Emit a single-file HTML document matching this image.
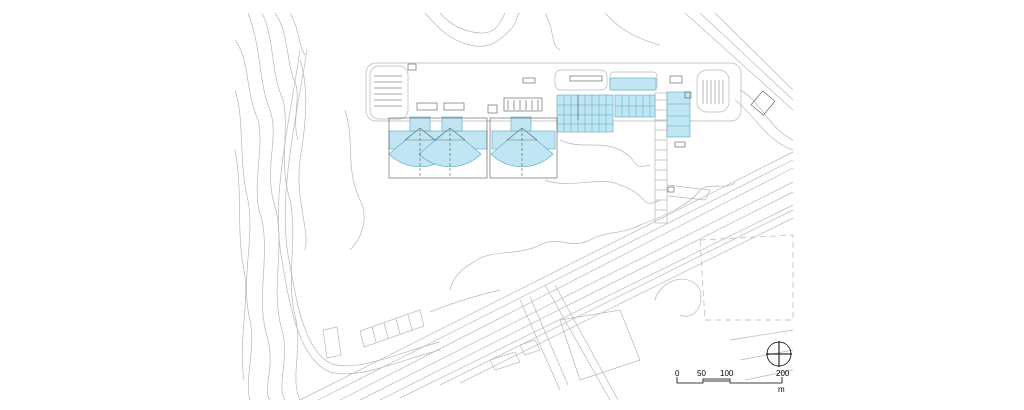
<!DOCTYPE html>
<html><head><meta charset="utf-8"><style>
html,body{margin:0;padding:0;background:#fff;width:1024px;height:410px;overflow:hidden}
svg{display:block}
text{font-family:"Liberation Sans",sans-serif;font-size:8px;fill:#000}
</style></head><body>
<svg width="1024" height="410" viewBox="0 0 1024 410" xmlns="http://www.w3.org/2000/svg">
<g fill="none" stroke="#b8b8b8" stroke-width="0.7">
<path d="M235 40 C250 60 245 90 258 120 C265 150 250 190 262 220 C270 260 255 300 268 340 C275 370 262 390 270 400"/>
<path d="M248 13 C262 50 258 80 270 110 C280 140 262 170 276 210 C285 250 270 290 282 330 C290 360 276 385 285 400"/>
<path d="M262 13 C275 40 270 70 283 100 C290 130 278 160 290 200 C298 240 285 280 296 320 C302 350 290 380 300 400"/>
<path d="M235 90 C245 120 238 160 248 200 C255 240 240 280 250 320 C256 350 244 380 250 400"/>
<path d="M235 150 C243 190 236 230 244 270 C250 300 238 340 244 380"/>
<path d="M275 13 C290 35 285 60 296 85 C300 100 292 120 298 140"/>
<path d="M290 13 C300 30 298 45 305 55"/>
<path d="M425 13 C440 30 450 40 470 45 C490 50 500 40 510 30 C520 20 515 14 520 13"/>
<path d="M440 13 C450 25 465 32 480 33 C495 34 500 24 505 13"/>
<path d="M545 13 C555 30 550 45 560 50"/>
<path d="M605 13 C620 30 640 40 660 45"/>
<path d="M300 60 C310 90 305 130 300 160 C295 200 310 230 305 250"/>
<path d="M345 110 C355 140 345 170 360 200 C370 220 360 240 350 250"/>
<path d="M545 180 C570 190 600 175 620 185 C650 195 640 210 660 200"/>
<path d="M560 140 C580 150 600 140 620 150 C640 160 630 170 650 165"/>
<path d="M450 290 C455 270 470 265 480 258 C500 250 520 255 540 245 C560 235 570 250 590 240 C610 230 620 235 640 225 C660 218 690 205 700 190 C710 182 725 190 735 183"/>
<path d="M430 312 C460 300 480 295 500 290"/>
<path d="M300 50 C290 120 270 200 282 260 C290 310 300 360 330 372 C360 380 400 360 440 350"/>
<path d="M307 50 C296 120 277 200 289 260 C297 305 305 352 332 364 C360 372 400 352 440 342"/>
<path d="M340 400 L793 168"/><path d="M318 400 L793 160"/>
<path d="M300 400 L793 152"/><path d="M360 400 L793 182"/>
<path d="M380 400 L793 192"/><path d="M400 398 L793 205"/>
<path d="M440 385 L793 210"/><path d="M460 383 L793 218"/>
<path d="M520 300 L560 390"/><path d="M530 297 L568 385"/>
<path d="M545 285 L610 400"/><path d="M555 285 L618 400"/>
<path d="M700 13 L793 100"/><path d="M685 13 L793 110"/><path d="M715 13 L793 90"/>
<path d="M740 90 C760 100 770 130 793 140"/><path d="M735 100 C755 115 765 140 793 150"/>
<path d="M655 300 C660 280 690 270 700 290 C705 310 690 320 680 315"/>
<path d="M700 240 L793 235 L793 320 L705 320 Z" stroke-dasharray="6 4"/>
<path d="M560 320 L620 310 L640 360 L580 380 Z"/>
<path d="M730 340 L793 330 M740 360 L793 350 M745 380 L793 370"/>
<path d="M360 331 L420 310 L424 326 L364 347 Z"/>
<path d="M372 327 L376 342 M384 323 L388 338 M396 319 L400 334 M408 315 L412 330"/>
<path d="M323 330 L337 327 L341 355 L327 358 Z"/>
<path d="M490 360 L515 352 L520 362 L495 370 Z M520 345 L535 340 L540 350 L525 355 Z"/>
<rect x="366" y="63" width="375" height="58" rx="10"/>
<rect x="370" y="66" width="38" height="53" rx="9"/>
<path d="M374 76 H402 M374 82 H402 M374 88 H402 M374 94 H402 M374 100 H402 M374 106 H402" stroke="#888"/>
<rect x="697" y="70" width="32" height="42" rx="10"/>
<path d="M703 80 V104 M707 80 V104 M711 80 V104 M715 80 V104 M719 80 V104 M723 80 V104" stroke="#999"/>
<rect x="555" y="70" width="52" height="20" rx="6"/>
<rect x="610" y="72" width="47" height="18" rx="4"/>
<rect x="655" y="93" width="12" height="130"/>
<path d="M655 100 H667 M655 110 H667 M655 120 H667 M655 130 H667 M655 140 H667 M655 150 H667 M655 160 H667 M655 170 H667 M655 180 H667 M655 190 H667 M655 200 H667 M655 210 H667"/>
<path d="M667 185 L710 190 L705 200 L668 196"/>
</g>
<g fill="#bfe6f2" stroke="#5aa9c4" stroke-width="0.6">
<rect x="389" y="131" width="98" height="18"/>
<rect x="492" y="131" width="63" height="18"/>
<path d="M420 128 L389 154 A44 44 0 0 0 451 154 Z"/>
<path d="M450 128 L419 154 A44 44 0 0 0 481 154 Z"/>
<path d="M522 128 L491 154 A44 44 0 0 0 553 154 Z"/>
<rect x="410" y="117" width="20" height="14"/><rect x="442" y="117" width="20" height="14"/><rect x="511" y="117" width="20" height="14"/>
<rect x="557" y="95" width="56" height="37"/>
<rect x="615" y="95" width="40" height="22"/>
<rect x="610" y="78" width="46" height="12"/>
<rect x="667" y="92" width="23" height="45"/>
</g>
<g fill="none" stroke="#5aa9c4" stroke-width="0.5">
<path d="M564 95 V132 M571 95 V132 M578 95 V132 M585 95 V132 M592 95 V132 M599 95 V132 M606 95 V132 M557 105 H613 M557 115 H613 M557 124 H613"/>
<path d="M622 95 V117 M629 95 V117 M636 95 V117 M643 95 V117 M650 95 V117 M615 106 H655"/>
<path d="M667 104 H690 M667 116 H690 M667 126 H690"/>
</g>
<g fill="none" stroke="#555" stroke-width="0.6">
<rect x="389" y="118" width="98" height="60"/><rect x="490" y="118" width="67" height="60"/>
<path d="M405 140 H435 L420 128 Z M435 140 H465 L450 128 Z M507 140 H537 L522 128 Z" stroke="#777"/>
<path d="M420 128 V178 M450 128 V178 M522 128 V178" stroke-dasharray="3 2"/>
<rect x="417" y="103" width="20" height="7"/><rect x="444" y="103" width="20" height="7"/>
<rect x="504" y="98" width="38" height="13"/><path d="M508 100 V110 M514 100 V110 M520 100 V110 M526 100 V110 M532 100 V110 M538 100 V110"/>
<rect x="488" y="105" width="9" height="8"/><rect x="523" y="78" width="12" height="5"/>
<rect x="570" y="76" width="32" height="5"/><rect x="408" y="64" width="8" height="6"/>
<rect x="685" y="92" width="6" height="6"/><rect x="670" y="76" width="12" height="7"/>
<rect x="675" y="142" width="10" height="5"/><rect x="668" y="187" width="6" height="5"/>
<path d="M578 95 V120"/>
<rect x="755" y="94" width="16" height="18" transform="rotate(40 763 103)"/>
</g>
<g fill="none" stroke="#000" stroke-width="0.8">
<circle cx="779" cy="354" r="12"/><path d="M779 341 V367 M766 354 H792" stroke-width="1"/>
<path d="M677 377 V383 H703 V379 H730 V383 H782 V377" />
<path d="M703 381 H730" stroke="#777" stroke-width="1.5"/>
</g>
<text x="675" y="376">0</text><text x="697" y="376">50</text><text x="720" y="376">100</text><text x="776" y="376">200</text><text x="778" y="392">m</text>
</svg>
</body></html>
